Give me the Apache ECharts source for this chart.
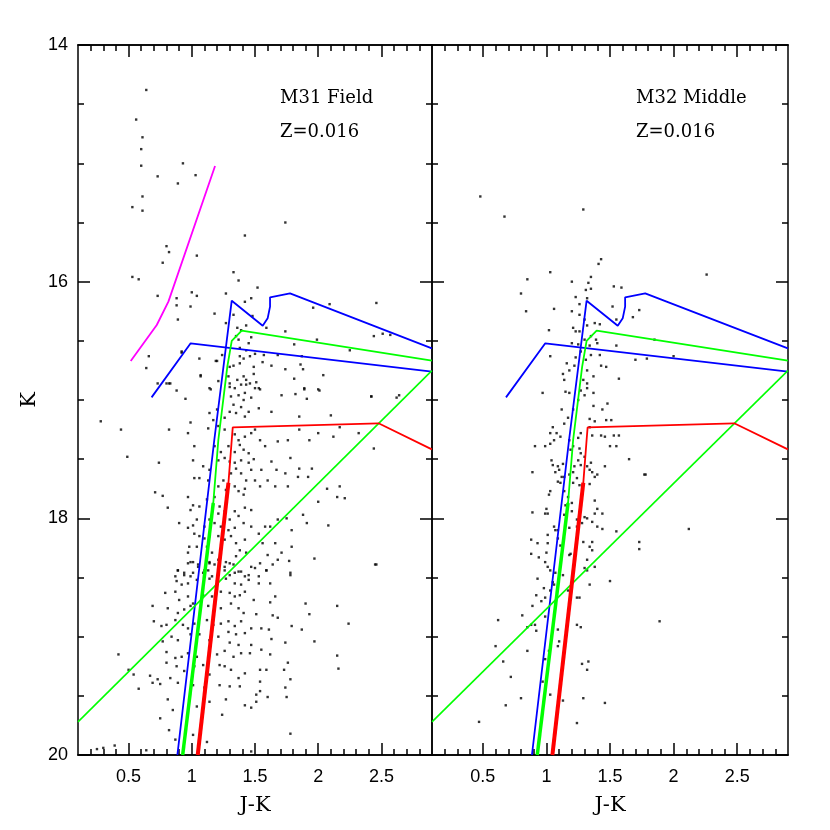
<!DOCTYPE html>
<html>
<head>
<meta charset="utf-8">
<script src="https://cdn.jsdelivr.net/npm/echarts@6/dist/echarts.min.js"></script>
<style>
  html, body { margin: 0; background: #fff; }
  #chart { width: 830px; height: 830px; }
</style>
</head>
<body>
<div id="chart"></div>
<script>
// tick values
const jkMajorTicks = [0.5, 1, 1.5, 2, 2.5];
const jkMinorTicks = [0.2, 0.3, 0.4, 0.6, 0.7, 0.8, 0.9, 1.1, 1.2, 1.3, 1.4, 1.6, 1.7, 1.8, 1.9, 2.1, 2.2, 2.3, 2.4, 2.6, 2.7, 2.8];

// isochrones, [J-K, K]
const blueUpper = [[0.886, 20.0], [1.178, 17.338], [1.316, 16.161], [1.561, 16.372], [1.60, 16.31], [1.619, 16.211], [1.619, 16.132], [1.777, 16.099], [2.899, 16.563]];
const blueLower = [[0.682, 16.978], [0.991, 16.521], [2.899, 16.761]];
const greenUpper = [[0.928, 20.0], [1.17, 17.87], [1.21, 17.338], [1.281, 16.718], [1.316, 16.501], [1.395, 16.414], [2.899, 16.668]];
const greenDiagonal = [[0.1, 19.72], [2.899, 16.752]];
const redIsochrone = [[1.047, 20.0], [1.29, 17.70], [1.316, 17.338], [1.324, 17.231], [2.477, 17.197], [2.899, 17.417]];
const magentaTrack = [[0.517, 16.671], [0.723, 16.366], [0.815, 16.169], [1.184, 15.023]];

// stars, [J-K, K]
const m31FieldStars = [
  [0.64,14.38],[0.56,14.63],[0.61,14.78],[0.60,14.88],[0.60,15.02],[0.93,15.00],[0.73,15.11],[1.03,15.10],[0.89,15.17],[0.61,15.28],
  [0.53,15.37],[0.61,15.40],[1.42,15.61],[0.80,15.70],[0.82,15.75],[0.77,15.84],[1.04,15.78],[0.53,15.96],[0.58,15.98],[1.33,15.92],
  [1.52,16.05],[0.73,16.12],[1.00,16.09],[1.04,16.12],[0.88,16.14],[0.88,16.20],[0.99,16.21],[1.27,16.10],[1.42,16.17],[1.47,16.14],
  [0.89,16.32],[1.18,16.27],[1.33,16.28],[1.48,16.29],[0.66,16.63],[0.64,16.73],[1.06,16.65],[0.92,16.60],[1.07,16.79],[1.19,16.67],[1.74,15.50],
  [1.37,15.99],[2.09,16.19],[2.46,16.18],[1.96,16.22],[1.27,16.35],[1.36,16.39],[1.43,16.37],[1.39,16.41],[1.59,16.39],[1.74,16.42],
  [2.44,16.46],[2.51,16.44],[2.57,16.45],[1.35,16.46],[1.37,16.49],[1.47,16.47],[1.45,16.52],[1.81,16.53],[1.99,16.49],[2.25,16.58],
  [1.38,16.56],[1.43,16.58],[0.92,16.59],[1.20,16.67],[1.24,16.62],[1.38,16.63],[1.41,16.65],[1.46,16.63],[1.50,16.61],[1.57,16.62],
  [1.68,16.62],[1.87,16.63],[1.30,16.72],[1.33,16.71],[1.38,16.69],[1.49,16.72],[1.56,16.68],[1.63,16.71],[1.74,16.74],[1.86,16.70],
  [1.88,16.74],[2.04,16.79],[1.07,16.80],[1.29,16.80],[1.36,16.83],[1.41,16.80],[1.43,16.83],[1.49,16.78],[1.51,16.85],[1.81,16.82],
  [0.80,16.86],[0.83,16.86],[1.14,16.90],[1.30,16.89],[1.43,16.87],[1.53,16.90],[1.89,16.91],[2.01,16.92],[2.42,16.97],[2.62,16.98],[2.64,16.96],
  [0.73,16.86],[0.82,16.86],[0.88,16.92],[0.95,16.99],[1.15,16.91],[1.21,16.84],[1.30,16.86],[1.34,16.90],[1.39,16.87],[1.42,16.94],
  [1.46,16.86],[1.50,16.90],[1.31,16.97],[1.37,16.96],[1.41,17.00],[1.47,16.98],[1.54,16.91],[1.33,17.04],[1.39,17.06],[1.45,17.10],
  [1.53,17.07],[1.30,17.10],[1.35,17.11],[1.42,17.14],[1.26,17.15],[1.20,17.08],[1.14,17.11],[1.17,17.17],[1.63,17.10],[1.71,16.96],
  [1.82,16.95],[1.89,16.90],[1.91,16.99],[2.00,16.91],[2.10,17.13],[1.85,17.14],[2.42,16.97],[0.28,17.18],[0.44,17.25],[0.82,17.25],
  [0.99,17.19],[0.97,17.28],[1.13,17.24],[1.21,17.22],[1.26,17.25],[1.34,17.29],[1.37,17.34],[1.42,17.31],[1.47,17.28],[1.50,17.25],
  [1.54,17.34],[1.38,17.38],[1.41,17.42],[1.45,17.45],[1.34,17.44],[1.29,17.39],[1.23,17.44],[1.26,17.49],[1.30,17.52],[1.34,17.53],
  [1.39,17.51],[1.45,17.53],[1.47,17.59],[1.39,17.62],[1.35,17.58],[1.31,17.62],[1.43,17.68],[1.58,17.39],[1.68,17.35],[1.76,17.34],
  [1.85,17.25],[1.93,17.34],[2.00,17.28],[2.12,17.31],[2.17,17.23],[2.32,17.28],[2.44,17.41],[1.02,17.39],[1.01,17.51],[1.18,17.39],
  [1.21,17.51],[1.14,17.59],[1.09,17.56],[1.02,17.66],[1.06,17.66],[1.13,17.68],[1.21,17.73],[1.25,17.68],[1.27,17.76],[1.34,17.73],
  [1.37,17.77],[1.41,17.80],[1.42,17.75],[1.50,17.68],[1.55,17.59],[1.60,17.68],[1.67,17.59],[1.74,17.62],[1.78,17.49],[1.85,17.58],
  [1.84,17.65],[1.92,17.65],[1.95,17.58],[1.76,17.73],[1.66,17.73],[1.54,17.73],[1.63,17.52],[1.49,17.50],[0.71,17.78],[0.77,17.81],
  [0.49,17.48],[0.74,17.53],[0.81,17.91],[0.97,17.82],[1.01,17.89],[0.99,17.93],[1.06,17.90],[1.12,17.84],[1.18,17.82],[1.22,17.90],
  [1.21,17.96],[1.26,17.94],[1.30,18.01],[1.34,17.94],[1.37,17.98],[1.42,17.91],[1.47,17.93],[1.41,18.04],[1.34,18.08],[1.29,18.10],
  [1.23,18.07],[1.18,18.04],[1.14,18.01],[1.10,18.07],[1.04,18.01],[1.01,18.06],[0.97,18.08],[0.90,18.04],[1.02,18.13],[1.06,18.15],
  [1.10,18.17],[1.14,18.15],[1.21,18.15],[1.26,18.18],[1.31,18.15],[1.35,18.21],[1.42,18.18],[1.47,18.07],[1.53,18.13],[1.58,18.07],
  [1.62,18.07],[1.68,18.01],[1.79,18.10],[1.75,18.00],[1.88,17.97],[1.91,18.04],[2.00,17.86],[2.07,17.75],[2.17,17.73],[2.15,17.82],
  [2.21,17.83],[2.08,18.06],[1.97,18.34],[2.45,18.39],[1.79,18.24],[1.71,18.29],[1.68,18.35],[1.60,18.31],[1.59,18.44],[1.53,18.49],
  [1.47,18.41],[1.43,18.29],[1.38,18.27],[1.35,18.32],[1.30,18.38],[1.26,18.41],[1.21,18.35],[1.16,18.29],[1.14,18.38],[1.10,18.44],
  [1.05,18.41],[0.99,18.37],[0.97,18.29],[0.94,18.46],[0.89,18.44],[0.87,18.49],[0.99,18.49],[1.16,18.49],[1.30,18.48],[1.37,18.45],
  [1.42,18.49],[1.78,18.46],[1.04,18.24],[1.12,18.24],[0.98,18.24],[1.66,18.21],[1.56,18.21],
  [0.97,18.38],[1.01,18.37],[1.05,18.39],[1.14,18.37],[1.18,18.39],[1.27,18.37],[1.33,18.39],[0.89,18.44],[0.94,18.48],[1.01,18.46],
  [1.09,18.46],[1.13,18.44],[1.21,18.45],[1.26,18.44],[1.34,18.46],[1.39,18.45],[1.45,18.48],[1.50,18.42],[1.54,18.38],[1.59,18.44],
  [1.64,18.39],[1.77,18.36],[2.46,18.39],[0.88,18.53],[0.92,18.56],[0.97,18.55],[1.04,18.52],[1.14,18.51],[1.20,18.53],[1.27,18.51],
  [1.34,18.55],[1.39,18.56],[1.45,18.52],[1.53,18.55],[1.62,18.55],[1.78,18.48],[0.79,18.63],[0.87,18.62],[0.90,18.69],[0.97,18.66],
  [1.01,18.72],[1.09,18.65],[1.16,18.66],[1.23,18.62],[1.30,18.63],[1.34,18.66],[1.38,18.65],[1.42,18.62],[1.49,18.69],[1.66,18.66],
  [1.62,18.71],[0.69,18.74],[0.81,18.76],[0.89,18.80],[0.94,18.77],[0.99,18.74],[1.13,18.74],[1.18,18.77],[1.23,18.76],[1.31,18.72],
  [1.37,18.76],[1.41,18.80],[1.51,18.81],[1.64,18.82],[1.68,18.84],[1.90,18.72],[1.93,18.81],[2.15,18.74],[0.70,18.87],[0.76,18.91],
  [0.80,18.90],[0.87,18.86],[0.93,18.90],[0.97,18.93],[1.02,18.89],[1.12,18.86],[1.17,18.90],[1.23,18.89],[1.29,18.87],[1.34,18.91],
  [1.39,18.87],[1.47,18.93],[1.55,18.93],[1.61,18.94],[1.79,18.91],[1.87,18.94],[2.24,18.89],[0.77,19.04],[0.84,19.00],[0.89,19.03],
  [0.99,18.98],[1.06,18.98],[1.14,19.03],[1.21,19.00],[1.29,18.96],[1.35,18.98],[1.42,18.97],[1.30,19.05],[1.37,19.07],[1.47,19.07],
  [1.55,19.11],[1.63,19.02],[1.74,19.05],[1.97,19.04],[0.42,19.15],[0.80,19.13],[0.87,19.18],[0.92,19.17],[0.97,19.14],[1.04,19.17],
  [1.14,19.11],[1.20,19.15],[1.26,19.12],[1.33,19.17],[1.39,19.14],[1.46,19.14],[1.62,19.15],[2.15,19.16],[0.50,19.28],[0.54,19.32],
  [0.67,19.33],[0.73,19.36],[0.80,19.22],[0.88,19.25],[0.94,19.29],[1.02,19.25],[1.09,19.24],[1.14,19.32],[1.22,19.24],[1.26,19.25],
  [1.31,19.28],[1.37,19.35],[1.42,19.31],[1.54,19.28],[1.59,19.28],[1.73,19.28],[1.76,19.22],[2.16,19.27],[0.58,19.44],[0.69,19.39],
  [0.75,19.40],[0.83,19.35],[0.89,19.39],[1.01,19.41],[1.10,19.43],[1.22,19.41],[1.30,19.42],[1.38,19.42],[1.54,19.38],[1.78,19.36],
  [1.74,19.43],[1.54,19.46],[1.51,19.49],[0.81,19.53],[0.85,19.62],[1.04,19.59],[1.14,19.55],[1.27,19.53],[1.42,19.58],[1.47,19.60],
  [1.60,19.51],[1.75,19.51],[1.51,19.55],[0.75,19.69],[0.82,19.79],[0.87,19.87],[1.01,19.83],[1.12,19.89],[1.24,19.66],[1.47,19.97],
  [1.78,19.82],[0.64,19.96],[0.25,19.95],[0.39,19.92],[0.30,19.94]
];

const m32MiddleStars = [
  [0.48,15.28],[2.26,15.94],[0.67,15.45],[1.29,15.39],[1.43,15.81],[1.41,15.85],[1.03,15.92],[0.85,15.98],[1.35,15.96],[1.20,16.00],
  [1.33,16.01],[0.80,16.10],[1.31,16.07],[1.35,16.06],[1.53,16.04],[1.59,16.05],[1.23,16.13],[1.32,16.14],[1.26,16.19],[1.06,16.23],
  [0.84,16.25],[1.20,16.25],[1.52,16.21],[1.73,16.24],[1.26,16.28],[1.68,16.30],[1.30,16.32],[1.21,16.39],[1.23,16.42],[1.26,16.42],
  [1.32,16.37],[1.38,16.35],[1.42,16.36],[1.02,16.41],[1.55,16.32],[1.35,16.46],[1.39,16.49],[1.30,16.49],[1.20,16.52],[1.25,16.53],
  [1.55,16.54],[1.40,16.52],[1.34,16.54],[1.85,16.49],[1.03,16.63],[1.27,16.59],[1.35,16.62],[1.42,16.62],[1.23,16.64],[1.31,16.66],
  [1.16,16.69],[1.22,16.71],[1.43,16.71],[1.47,16.72],[1.18,16.75],[1.13,16.78],[1.32,16.75],[1.37,16.80],[1.14,16.83],[1.29,16.83],
  [1.32,16.86],[1.57,16.82],[1.70,16.66],[1.79,16.65],[2.00,16.63],[1.15,16.93],[1.18,16.94],[1.27,16.92],[1.32,16.90],[1.30,16.96],
  [0.97,16.94],[1.25,17.00],[1.37,16.94],[1.21,17.08],[1.12,17.08],[1.17,17.15],[1.14,17.20],[1.37,17.05],[1.44,17.08],[1.48,17.03],
  [1.34,17.16],[1.38,17.18],[1.34,17.23],[1.47,17.17],[1.51,17.17],[1.05,17.23],[1.03,17.28],[1.08,17.28],[1.11,17.31],[1.06,17.34],
  [1.03,17.37],[0.99,17.39],[0.91,17.39],[1.18,17.34],[1.25,17.32],[1.27,17.28],[1.36,17.30],[1.43,17.30],[1.46,17.31],[1.53,17.30],
  [1.57,17.30],[1.55,17.39],[1.50,17.39],[1.26,17.41],[1.19,17.42],[1.21,17.39],[1.27,17.45],[1.30,17.48],[1.25,17.51],[1.27,17.55],
  [1.04,17.51],[1.05,17.55],[1.09,17.56],[1.07,17.61],[1.12,17.65],[1.32,17.56],[1.34,17.59],[1.36,17.61],[1.40,17.63],[1.65,17.50],
  [1.46,17.56],[0.89,17.61],[1.78,17.63],
  [1.10,17.59],[1.13,17.54],[1.09,17.69],[1.11,17.70],[1.14,17.65],[1.18,17.63],[1.21,17.61],[1.22,17.56],[1.21,17.70],[1.26,17.72],
  [1.24,17.66],[1.34,17.71],[1.38,17.65],[1.35,17.53],[1.77,17.63],[1.02,17.80],[1.03,17.77],[1.14,17.77],[1.17,17.82],[1.15,17.89],
  [1.20,17.87],[0.89,17.95],[1.00,17.92],[1.01,17.96],[0.99,17.96],[1.14,17.97],[1.20,17.94],[1.24,18.01],[1.30,17.99],[1.32,18.00],
  [1.38,17.85],[1.40,17.92],[1.38,17.96],[1.44,17.96],[1.36,18.03],[1.40,18.07],[1.44,18.09],[1.24,18.07],[1.28,18.04],[1.18,18.08],
  [1.06,18.07],[1.09,18.10],[1.07,18.10],[1.01,18.14],[1.14,18.11],[1.55,18.11],[2.12,18.09],[0.88,18.18],[0.93,18.21],[0.88,18.30],
  [1.01,18.21],[1.09,18.17],[1.00,18.29],[0.94,18.33],[1.11,18.23],[1.18,18.31],[1.19,18.30],[1.29,18.20],[1.34,18.24],[1.36,18.27],
  [1.36,18.20],[1.32,18.35],[1.30,18.42],[1.32,18.44],[1.38,18.41],[1.73,18.20],[1.73,18.26],[0.99,18.37],[1.01,18.41],[1.03,18.44],
  [1.07,18.46],[1.10,18.46],[1.13,18.48],[0.93,18.51],[0.98,18.59],[1.03,18.61],[1.05,18.54],[1.06,18.56],[0.99,18.67],[0.92,18.65],
  [0.96,18.70],[0.89,18.74],[1.24,18.67],[1.26,18.67],[1.17,18.61],[1.34,18.56],[1.50,18.53],[0.81,18.82],[0.62,18.86],[0.85,18.92],
  [0.88,18.90],[0.91,18.90],[0.92,18.95],[0.99,18.83],[1.09,18.94],[1.10,19.04],[1.09,19.08],[1.24,18.90],[1.27,18.92],[1.89,18.87],
  [0.60,19.08],[0.85,19.12],[1.02,19.12],[0.99,19.19],[0.66,19.21],[0.72,19.34],[0.97,19.38],[1.28,19.23],[1.33,19.21],[1.32,19.28],
  [0.80,19.52],[0.68,19.58],[1.03,19.49],[1.13,19.54],[1.29,19.52],[1.46,19.56],[0.47,19.72],[1.24,19.73]
];

const chart = echarts.init(document.getElementById('chart'));

const tickFont = { fontFamily: 'Liberation Sans', fontSize: 18, color: '#000' };
const titleFont = { fontFamily: 'DejaVu Serif', fontSize: 21, color: '#000' };
const frameLine = { lineStyle: { color: '#000', width: 1.5 }, onZero: false };

function jkAxes(gridIndex) {
  const base = { gridIndex: gridIndex, type: 'value', min: 0.1, max: 2.9, splitLine: { show: false }, axisLine: frameLine };
  return [
    Object.assign({}, base, {
      position: 'bottom', name: 'J-K', nameLocation: 'middle', nameGap: 40, nameTextStyle: titleFont,
      axisTick: { inside: true, length: 12, customValues: jkMajorTicks, lineStyle: { color: '#000', width: 1.5 } },
      axisLabel: Object.assign({ customValues: jkMajorTicks, margin: 13 }, tickFont)
    }),
    Object.assign({}, base, {
      position: 'bottom', axisLabel: { show: false },
      axisTick: { inside: true, length: 6, customValues: jkMinorTicks, lineStyle: { color: '#000', width: 1.5 } }
    }),
    Object.assign({}, base, {
      position: 'top', axisLabel: { show: false },
      axisTick: { inside: true, length: 12, customValues: jkMajorTicks, lineStyle: { color: '#000', width: 1.5 } }
    }),
    Object.assign({}, base, {
      position: 'top', axisLabel: { show: false },
      axisTick: { inside: true, length: 6, customValues: jkMinorTicks, lineStyle: { color: '#000', width: 1.5 } }
    })
  ];
}

function kAxes(gridIndex, withLabels) {
  const base = {
    gridIndex: gridIndex, type: 'value', min: 14, max: 20, interval: 2, inverse: true,
    splitLine: { show: false }, axisLine: frameLine,
    axisTick: { inside: true, length: 12, lineStyle: { color: '#000', width: 1.5 } },
    minorTick: { show: true, splitNumber: 4, length: 6, lineStyle: { color: '#000', width: 1.5 } }
  };
  const left = Object.assign({}, base, { position: 'left', axisLabel: { show: false } });
  if (withLabels) {
    left.axisLabel = Object.assign({ margin: 10 }, tickFont);
    left.name = 'K';
    left.nameLocation = 'middle';
    left.nameRotate = 90;
    left.nameGap = 38;
    left.nameTextStyle = titleFont;
  }
  const right = Object.assign({}, base, { position: 'right', axisLabel: { show: false } });
  return [left, right];
}

function lineSeries(data, color, width, xi, yi) {
  return {
    type: 'line', data: data, xAxisIndex: xi, yAxisIndex: yi,
    showSymbol: false, symbol: 'none', silent: true,
    lineStyle: { color: color, width: width }, z: 3
  };
}

function panelSeries(stars, xi, yi) {
  return [
    { type: 'scatter', data: stars, xAxisIndex: xi, yAxisIndex: yi, symbol: 'rect', symbolSize: 2.4,
      itemStyle: { color: '#000' }, silent: true, z: 2 },
    lineSeries(blueUpper, '#0000ff', 1.8, xi, yi),
    lineSeries(blueLower, '#0000ff', 1.8, xi, yi),
    lineSeries(greenUpper, '#00ff00', 1.8, xi, yi),
    lineSeries(greenUpper.slice(0, 2), '#00ff00', 3.5, xi, yi),
    lineSeries(greenDiagonal, '#00ff00', 1.6, xi, yi),
    lineSeries(redIsochrone, '#ff0000', 1.8, xi, yi),
    lineSeries(redIsochrone.slice(0, 2), '#ff0000', 4, xi, yi)
  ];
}

const labelStyle = { fontFamily: 'DejaVu Serif', fontSize: 18, fill: '#000' };

chart.setOption({
  animation: false,
  backgroundColor: '#fff',
  grid: [
    { left: 78, top: 45, width: 354, height: 710 },
    { left: 432, top: 45, width: 356, height: 710 }
  ],
  xAxis: jkAxes(0).concat(jkAxes(1)),
  yAxis: kAxes(0, true).concat(kAxes(1, false)),
  series: panelSeries(m31FieldStars, 0, 0)
    .concat([lineSeries(magentaTrack, '#ff00ff', 1.8, 0, 0)])
    .concat(panelSeries(m32MiddleStars, 4, 2)),
  graphic: [
    { type: 'text', left: 280, top: 89, style: Object.assign({ text: 'M31 Field' }, labelStyle) },
    { type: 'text', left: 280, top: 123, style: Object.assign({ text: 'Z=0.016' }, labelStyle) },
    { type: 'text', left: 636, top: 89, style: Object.assign({ text: 'M32 Middle' }, labelStyle) },
    { type: 'text', left: 636, top: 123, style: Object.assign({ text: 'Z=0.016' }, labelStyle) }
  ]
});
</script>
</body>
</html>
